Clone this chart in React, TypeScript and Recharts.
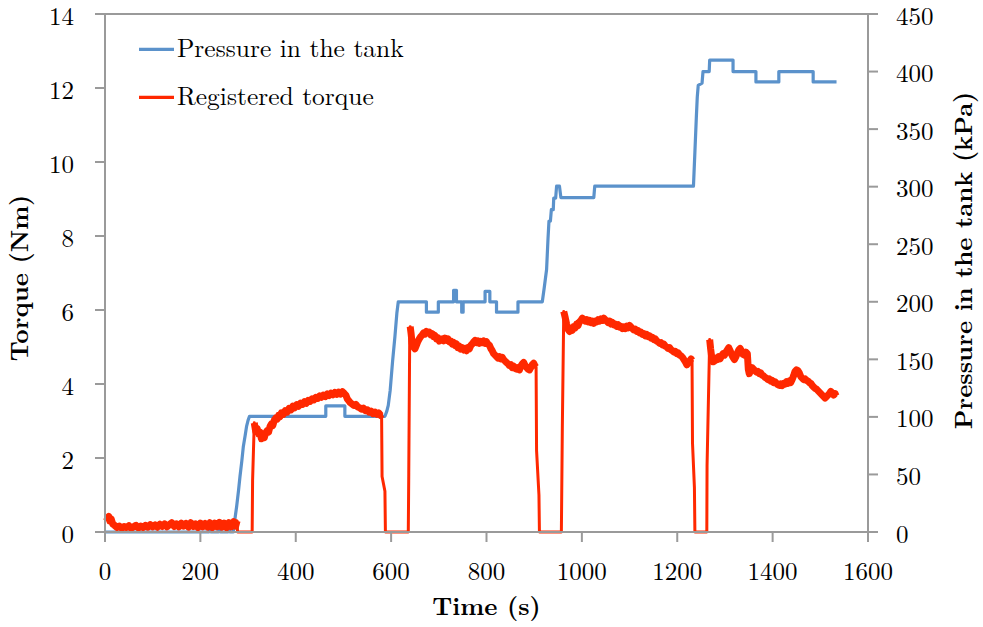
import React from 'react';
import { LineChart, Line, XAxis, YAxis, Legend, ReferenceLine, Label } from 'recharts';

// Axis ticks
const timeTicks = [0, 200, 400, 600, 800, 1000, 1200, 1400, 1600];
const torqueTicks = [0, 2, 4, 6, 8, 10, 12, 14];
const pressureTicks = [0, 50, 100, 150, 200, 250, 300, 350, 400, 450];

// Tank pressure, [time s, kPa]
const pressureKPa: [number, number][] = [
  [0, 0], [218, 0], [219, 1.2], [221, 1.2], [222, 0], [238, 0], [239, 1.2], [241, 1.2], [242, 0],
  [258, 0], [259, 1.2], [261, 1.2], [262, 0], [269, 0], [272, 10], [276, 22], [280, 36], [283, 48],
  [287, 62], [290, 74], [294, 84], [297, 92], [300, 97], [303, 100.5], [463, 100.5], [463, 109.5],
  [503, 109.5], [503, 100.5], [587, 100.5], [591, 105], [594, 110], [598, 123], [603, 148], [608, 170],
  [612, 190], [615, 200], [674, 200], [674, 191], [699, 191], [699, 200], [731, 200], [731, 210],
  [737, 210], [737, 200], [748, 200], [748, 191], [751, 191], [751, 200], [797, 200], [797, 209],
  [807, 209], [807, 200], [821, 200], [821, 191], [866, 191], [866, 200], [917, 200], [921, 212],
  [926, 228], [929, 255], [931, 270], [934, 270], [936, 280], [940, 280], [941, 290], [945, 290],
  [947, 300.5], [953, 300.5], [956, 290.5], [1025, 290.5], [1027, 300.5], [1234, 300.5], [1237, 330],
  [1240, 360], [1242, 378], [1244, 388], [1252, 390], [1254, 400], [1267, 400], [1268, 410],
  [1317, 410], [1317, 400], [1365, 400], [1365, 391], [1413, 391], [1413, 400], [1485, 400],
  [1485, 391], [1534, 391],
];

// Registered torque, [time s, Nm] — idle phase before the first run
const torqueIdle: [number, number][] = [
  [3, 0.3], [6, 0.38], [8, 0.42], [10, 0.3], [13, 0.35], [16, 0.22], [20, 0.18], [25, 0.12], [30, 0.16],
  [35, 0.1], [40, 0.15], [45, 0.12], [50, 0.17], [55, 0.1], [60, 0.14], [65, 0.18], [70, 0.11],
  [75, 0.16], [80, 0.12], [85, 0.18], [90, 0.13], [95, 0.2], [100, 0.14], [105, 0.19], [110, 0.13],
  [115, 0.21], [120, 0.15], [125, 0.22], [130, 0.14], [135, 0.2], [140, 0.25], [145, 0.15], [150, 0.22],
  [155, 0.14], [160, 0.24], [165, 0.16], [170, 0.23], [175, 0.13], [180, 0.25], [185, 0.15], [190, 0.22],
  [195, 0.12], [200, 0.24], [205, 0.14], [210, 0.23], [215, 0.13], [220, 0.25], [225, 0.12], [230, 0.24],
  [235, 0.14], [240, 0.26], [245, 0.13], [250, 0.24], [255, 0.12], [260, 0.25], [265, 0.14], [270, 0.28],
  [274, 0.16], [277, 0.3],
];

const torqueStop1: [number, number][] = [[278, 0], [308.6, 0], [309.5, 1.4]];

const torqueRun1: [number, number][] = [
  [313, 2.95], [316, 2.72], [319, 2.8], [322, 2.65], [325, 2.7], [328, 2.52], [331, 2.62], [334, 2.55],
  [337, 2.68], [340, 2.74], [343, 2.7], [346, 2.85], [349, 2.92], [352, 2.88], [355, 3.02], [358, 3.08],
  [361, 3.05], [364, 3.15], [367, 3.12], [370, 3.22], [374, 3.18], [378, 3.28], [382, 3.24], [386, 3.34],
  [390, 3.3], [394, 3.4], [398, 3.36], [402, 3.44], [406, 3.4], [410, 3.48], [414, 3.45], [418, 3.52],
  [422, 3.48], [426, 3.56], [430, 3.53], [434, 3.6], [438, 3.57], [442, 3.64], [446, 3.61], [450, 3.68],
  [454, 3.64], [458, 3.7], [462, 3.66], [466, 3.73], [470, 3.69], [474, 3.75], [478, 3.71], [482, 3.77],
  [486, 3.72], [490, 3.78], [494, 3.73], [498, 3.79], [502, 3.74], [505, 3.7], [508, 3.6], [511, 3.55],
  [514, 3.5], [518, 3.46], [522, 3.42], [526, 3.45], [530, 3.38], [534, 3.36], [538, 3.32], [542, 3.35],
  [546, 3.28], [550, 3.3], [554, 3.24], [558, 3.27], [562, 3.2], [566, 3.24], [570, 3.18], [574, 3.22],
  [578, 3.15], [580, 3.18],
];

const torqueStop2: [number, number][] = [[581, 1.5], [587, 1.1], [588, 0], [636, 0], [637, 1.6], [639, 5.3]];

const torqueRun2: [number, number][] = [
  [640, 5.55], [642, 5.35], [644, 5.1], [647, 5.0], [650, 4.95], [653, 5.05], [656, 5.15], [659, 5.22],
  [662, 5.28], [665, 5.32], [668, 5.38], [671, 5.35], [674, 5.42], [677, 5.38], [680, 5.4], [683, 5.33],
  [686, 5.36], [689, 5.28], [692, 5.31], [695, 5.22], [698, 5.25], [701, 5.16], [704, 5.2], [707, 5.22],
  [710, 5.17], [713, 5.24], [716, 5.18], [719, 5.22], [722, 5.14], [725, 5.16], [728, 5.08], [731, 5.12],
  [734, 5.04], [737, 5.08], [740, 4.98], [743, 5.02], [746, 4.94], [749, 4.98], [752, 4.92], [755, 4.96],
  [758, 4.9], [761, 4.98], [764, 4.95], [767, 5.04], [770, 5.08], [773, 5.14], [776, 5.18], [779, 5.12],
  [782, 5.16], [785, 5.1], [788, 5.15], [791, 5.12], [794, 5.16], [797, 5.1], [800, 5.14], [803, 5.08],
  [806, 5.05], [809, 4.96], [812, 4.9], [815, 4.82], [818, 4.78], [821, 4.74], [824, 4.7], [827, 4.74],
  [830, 4.68], [833, 4.72], [836, 4.66], [839, 4.62], [842, 4.58], [845, 4.55], [848, 4.5], [851, 4.52],
  [854, 4.44], [857, 4.48], [860, 4.42], [863, 4.4], [866, 4.44], [869, 4.38], [872, 4.48], [875, 4.54],
  [878, 4.58], [881, 4.5], [884, 4.45], [887, 4.4], [890, 4.38], [893, 4.45], [896, 4.52], [899, 4.56],
  [902, 4.48], [904, 4.45],
];

const torqueStop3: [number, number][] = [[905, 2.2], [910, 1.0], [911, 0], [957, 0], [959, 2.8]];

const torqueRun3: [number, number][] = [
  [962, 5.96], [965, 5.8], [968, 5.62], [971, 5.48], [974, 5.42], [977, 5.5], [980, 5.45], [983, 5.55],
  [986, 5.52], [989, 5.62], [992, 5.58], [995, 5.68], [998, 5.72], [1001, 5.78], [1004, 5.74], [1007, 5.7],
  [1010, 5.74], [1013, 5.68], [1016, 5.72], [1019, 5.66], [1022, 5.7], [1025, 5.64], [1028, 5.7],
  [1031, 5.68], [1034, 5.74], [1037, 5.7], [1040, 5.76], [1043, 5.72], [1046, 5.78], [1049, 5.74],
  [1052, 5.7], [1055, 5.66], [1058, 5.7], [1061, 5.62], [1064, 5.66], [1067, 5.6], [1070, 5.62],
  [1073, 5.56], [1076, 5.6], [1079, 5.54], [1082, 5.56], [1085, 5.5], [1088, 5.54], [1091, 5.5],
  [1094, 5.56], [1097, 5.52], [1100, 5.58], [1103, 5.54], [1106, 5.5], [1109, 5.46], [1112, 5.48],
  [1115, 5.42], [1118, 5.44], [1121, 5.38], [1124, 5.4], [1127, 5.34], [1130, 5.36], [1133, 5.3],
  [1136, 5.34], [1139, 5.28], [1142, 5.3], [1145, 5.24], [1148, 5.26], [1151, 5.2], [1154, 5.22],
  [1157, 5.16], [1160, 5.14], [1163, 5.1], [1166, 5.12], [1169, 5.06], [1172, 5.08], [1175, 5.02],
  [1178, 5.0], [1181, 4.96], [1184, 4.98], [1187, 4.92], [1190, 4.9], [1193, 4.86], [1196, 4.88],
  [1199, 4.82], [1202, 4.84], [1205, 4.78], [1208, 4.76], [1211, 4.72], [1214, 4.66], [1217, 4.6],
  [1220, 4.52], [1223, 4.56], [1226, 4.62], [1229, 4.68], [1231, 4.64],
];

const torqueStop4: [number, number][] = [[1232, 2.4], [1236, 1.2], [1237, 0], [1262, 0], [1262.5, 1.8]];

const torqueRun4: [number, number][] = [
  [1268, 5.2], [1270, 4.95], [1272, 4.75], [1275, 4.6], [1278, 4.62], [1281, 4.7], [1284, 4.66],
  [1287, 4.74], [1290, 4.68], [1293, 4.76], [1296, 4.82], [1299, 4.78], [1302, 4.86], [1305, 4.92],
  [1308, 4.98], [1311, 4.9], [1314, 4.8], [1317, 4.72], [1320, 4.66], [1323, 4.74], [1326, 4.84],
  [1329, 4.92], [1332, 4.96], [1335, 4.88], [1338, 4.8], [1341, 4.78], [1344, 4.86], [1347, 4.82],
  [1349, 4.4], [1351, 4.28], [1354, 4.36], [1357, 4.44], [1360, 4.4], [1363, 4.36], [1366, 4.32],
  [1369, 4.34], [1372, 4.28], [1375, 4.3], [1378, 4.24], [1381, 4.22], [1384, 4.18], [1387, 4.16],
  [1390, 4.12], [1393, 4.14], [1396, 4.08], [1399, 4.1], [1402, 4.04], [1405, 4.06], [1408, 4.02],
  [1411, 3.98], [1414, 3.96], [1417, 4.0], [1420, 3.96], [1423, 4.02], [1426, 4.0], [1429, 4.06],
  [1432, 4.02], [1435, 4.08], [1438, 4.04], [1441, 4.12], [1444, 4.22], [1447, 4.34], [1450, 4.38],
  [1453, 4.36], [1456, 4.3], [1459, 4.2], [1462, 4.16], [1465, 4.12], [1468, 4.14], [1471, 4.1],
  [1474, 4.08], [1477, 4.04], [1480, 4.02], [1483, 3.96], [1486, 3.92], [1489, 3.88], [1492, 3.86],
  [1495, 3.82], [1498, 3.78], [1501, 3.74], [1504, 3.7], [1507, 3.66], [1510, 3.62], [1513, 3.66],
  [1516, 3.7], [1519, 3.74], [1522, 3.8], [1525, 3.76], [1528, 3.7], [1531, 3.74], [1533, 3.68],
];

const BLUE = '#5B92CB';
const RED = '#FF2800';
const AXIS = '#9A9A9A';
const FONT = 'Latin Modern Roman, serif';

type Row = { t: number; v: number | null };
const toRows = (pts: [number, number][]): Row[] => pts.map(([t, v]) => ({ t, v }));

const pressureRows = toRows(pressureKPa);
const torqueRows = toRows([
  ...torqueIdle, ...torqueStop1, ...torqueRun1, ...torqueStop2, ...torqueRun2,
  ...torqueStop3, ...torqueRun3, ...torqueStop4, ...torqueRun4,
]);

// Noisy running phases get a heavier stroke; gaps keep the pieces apart
const runs = [torqueIdle, torqueRun1, torqueRun2, torqueRun3, torqueRun4];
const torqueBandRows: Row[] = runs.flatMap((seg, i) => {
  const rows = toRows(seg);
  return i < runs.length - 1 ? [...rows, { t: seg[seg.length - 1][0] + 0.5, v: null }] : rows;
});

const tickText = { fontFamily: FONT, fontSize: 25, fill: '#000' };

const LeftTick = (p: any) => (
  <text x={p.x - 21} y={p.y} dy={10.5} textAnchor="end" {...tickText}>{p.payload.value}</text>
);
const RightTick = (p: any) => (
  <text x={p.x + 18} y={p.y} dy={10.5} textAnchor="start" {...tickText}>{p.payload.value}</text>
);
const BottomTick = (p: any) => (
  <text x={p.x} y={p.y} dy={37.5} textAnchor="middle" {...tickText}>{p.payload.value}</text>
);

const titleStyle = { fontFamily: FONT, fontSize: 25, fontWeight: 700, fill: '#000' };

const LegendBox = () => (
  <svg width={340} height={100} style={{ display: 'block', overflow: 'visible' }}>
    <line x1={0} y1={19.3} x2={35} y2={19.3} stroke={BLUE} strokeWidth={3.2} />
    <text x={38} y={26.5} fontFamily={FONT} fontSize={25.5} fill="#000">Pressure in the tank</text>
    <line x1={0} y1={67.3} x2={35} y2={67.3} stroke={RED} strokeWidth={3.2} />
    <text x={38} y={74.5} fontFamily={FONT} fontSize={25.5} fill="#000">Registered torque</text>
  </svg>
);

export default function App() {
  return (
    <div style={{ position: 'absolute', left: 0, top: 0, width: 983, height: 627, background: '#fff' }}>
      <LineChart width={983} height={627} margin={{ top: 14, right: 0, bottom: 0, left: 0 }}>
        <XAxis
          type="number"
          dataKey="t"
          domain={[0, 1600]}
          ticks={timeTicks}
          interval={0}
          height={95}
          tickSize={10}
          tickMargin={0}
          axisLine={{ stroke: AXIS, strokeWidth: 2 }}
          tickLine={{ stroke: AXIS, strokeWidth: 2 }}
          tick={BottomTick}
        >
          <Label
            content={(props: any) => {
              const vb = props.viewBox;
              return (
                <text x={vb.x + vb.width / 2} y={vb.y + 82.5} textAnchor="middle" {...titleStyle}>
                  Time (s)
                </text>
              );
            }}
          />
        </XAxis>
        <YAxis
          yAxisId="torque"
          orientation="left"
          domain={[0, 14]}
          ticks={torqueTicks}
          interval={0}
          width={105}
          tickSize={10}
          tickMargin={0}
          axisLine={{ stroke: AXIS, strokeWidth: 2 }}
          tickLine={{ stroke: AXIS, strokeWidth: 2 }}
          tick={LeftTick}
        >
          <Label
            content={(props: any) => {
              const vb = props.viewBox;
              const cx = vb.x + 28;
              const cy = vb.y + vb.height / 2 + 5;
              return (
                <text x={cx} y={cy} transform={`rotate(-90, ${cx}, ${cy})`} textAnchor="middle" {...titleStyle}>
                  Torque (Nm)
                </text>
              );
            }}
          />
        </YAxis>
        <YAxis
          yAxisId="pressure"
          orientation="right"
          domain={[0, 450]}
          ticks={pressureTicks}
          interval={0}
          width={115}
          tickSize={10}
          tickMargin={0}
          axisLine={{ stroke: AXIS, strokeWidth: 2 }}
          tickLine={{ stroke: AXIS, strokeWidth: 2 }}
          tick={RightTick}
        >
          <Label
            content={(props: any) => {
              const vb = props.viewBox;
              const cx = vb.x + 104;
              const cy = vb.y + vb.height / 2 - 12.5;
              return (
                <text x={cx} y={cy} transform={`rotate(-90, ${cx}, ${cy})`} textAnchor="middle" {...titleStyle}>
                  Pressure in the tank (kPa)
                </text>
              );
            }}
          />
        </YAxis>
        <ReferenceLine yAxisId="torque" y={14} stroke={AXIS} strokeWidth={2} />
        <Legend
          layout="vertical"
          align="center"
          verticalAlign="middle"
          wrapperStyle={{ left: 139, top: 30, width: 340, height: 100 }}
          content={() => <LegendBox />}
        />
        <Line
          data={pressureRows}
          yAxisId="pressure"
          dataKey="v"
          name="Pressure in the tank"
          type="linear"
          stroke={BLUE}
          strokeWidth={3.2}
          strokeLinejoin="round"
          dot={false}
          activeDot={false}
          isAnimationActive={false}
        />
        <Line
          data={torqueRows}
          yAxisId="torque"
          dataKey="v"
          name="Registered torque"
          type="linear"
          stroke={RED}
          strokeWidth={3}
          strokeLinejoin="round"
          dot={false}
          activeDot={false}
          isAnimationActive={false}
        />
        <Line
          data={torqueBandRows}
          yAxisId="torque"
          dataKey="v"
          name="Registered torque band"
          legendType="none"
          type="linear"
          stroke={RED}
          strokeWidth={7}
          strokeLinejoin="round"
          dot={false}
          activeDot={false}
          isAnimationActive={false}
        />
      </LineChart>
    </div>
  );
}
